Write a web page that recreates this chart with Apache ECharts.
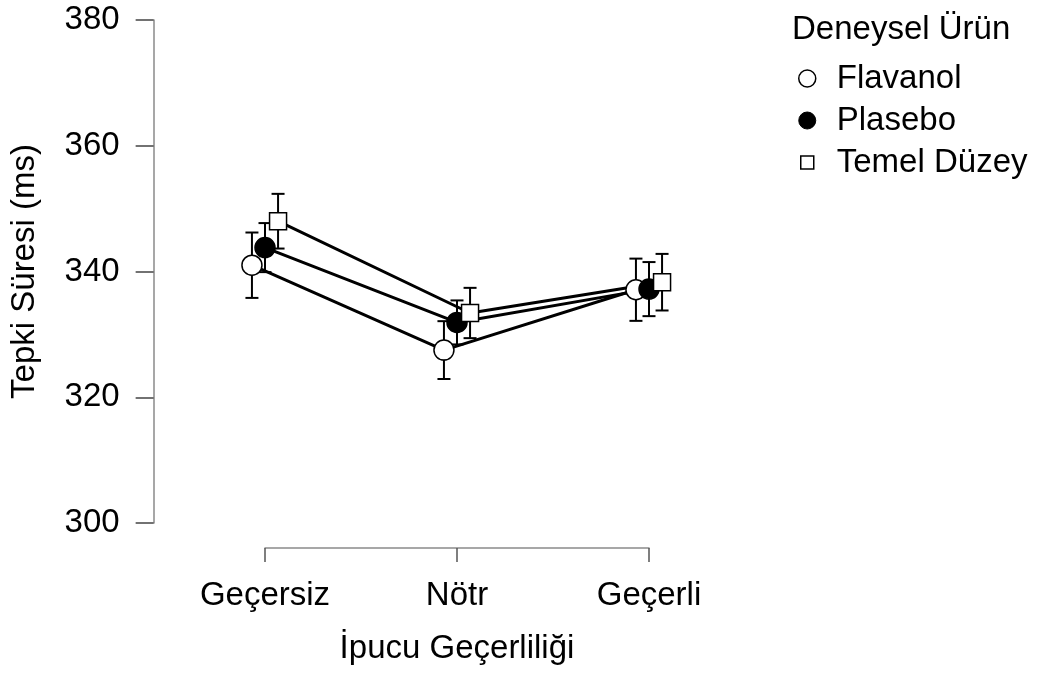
<!DOCTYPE html>
<html>
<head>
<meta charset="utf-8">
<script src="https://cdn.jsdelivr.net/npm/echarts@6/dist/echarts.min.js"></script>
<style>html,body{margin:0;padding:0;background:#fff}#c{width:1042px;height:679px}</style>
</head>
<body>
<div id="c"></div>
<script>
// ---- data ----
const categories = ['Geçersiz', 'Nötr', 'Geçerli'];
const groups = ['Flavanol', 'Plasebo', 'Temel Düzey'];
const flavanol = [341.0, 327.5, 337.1];
const flavanolSE = [5.2, 4.6, 4.95];
const plasebo = [343.8, 331.9, 337.2];
const plaseboSE = [3.9, 3.5, 4.3];
const temel = [348.0, 333.4, 338.3];
const temelSE = [4.35, 4.0, 4.5];
const yTicks = [300, 320, 340, 360, 380];

// ---- layout ----
const FONT = '"Liberation Sans", Arial, sans-serif';
const FS = 33;
const xMin = -0.58, xMax = 2.6, pxPerUnit = 192, firstCatPx = 265;
const gridLeft = firstCatPx + xMin * pxPerUnit;
const gridRight = 1042 - (firstCatPx + xMax * pxPerUnit);
const dodge = [-0.068, 0, 0.068];

const means = [flavanol, plasebo, temel];
const ses = [flavanolSE, plaseboSE, temelSE];
const symbols = ['circle', 'circle', 'rect'];
const sizes = [20, 20, 17];
const fills = ['#fff', '#000', '#fff'];

const series = [];
groups.forEach((g, gi) => {
  series.push({
    name: g + ' hata',
    type: 'custom',
    xAxisIndex: 0, yAxisIndex: 0,
    z: 2,
    silent: true,
    data: means[gi].map((m, ci) => [ci + dodge[gi], m - ses[gi][ci], m + ses[gi][ci]]),
    renderItem: function (params, api) {
      const x = api.value(0);
      const top = api.coord([x, api.value(2)]);
      const bot = api.coord([x, api.value(1)]);
      const hw = 6.5;
      const st = { stroke: '#000', lineWidth: 2 };
      return {
        type: 'group',
        children: [
          { type: 'line', shape: { x1: top[0], y1: top[1], x2: bot[0], y2: bot[1] }, style: st },
          { type: 'line', shape: { x1: top[0] - hw, y1: top[1], x2: top[0] + hw, y2: top[1] }, style: st },
          { type: 'line', shape: { x1: bot[0] - hw, y1: bot[1], x2: bot[0] + hw, y2: bot[1] }, style: st }
        ]
      };
    }
  });
});
groups.forEach((g, gi) => {
  series.push({
    name: g,
    type: 'line',
    xAxisIndex: 0, yAxisIndex: 0,
    z: 3,
    data: means[gi].map((m, ci) => [ci + dodge[gi], m]),
    symbol: symbols[gi],
    symbolSize: sizes[gi],
    showSymbol: true,
    lineStyle: { color: '#000', width: 3 },
    itemStyle: { color: fills[gi], borderColor: '#000', borderWidth: 1.5, opacity: 1 },
    emphasis: { disabled: true }
  });
});

const chart = echarts.init(document.getElementById('c'), null, { renderer: 'canvas' });
chart.setOption({
  animation: false,
  backgroundColor: '#fff',
  textStyle: { fontFamily: FONT, color: '#000' },
  title: {
    text: 'Deneysel Ürün',
    left: 787, top: 8,
    textStyle: { fontFamily: FONT, fontSize: FS, fontWeight: 'normal', color: '#000' }
  },
  legend: {
    orient: 'vertical',
    left: 798, top: 62,
    padding: 0,
    itemWidth: 17, itemHeight: 17,
    itemGap: 9,
    selectedMode: false,
    textStyle: { fontFamily: FONT, fontSize: FS, color: '#000', lineHeight: 33, padding: [0, 0, 0, 16] },
    data: [
      { name: groups[0], icon: 'circle', itemStyle: { color: '#fff', borderColor: '#000', borderWidth: 1.5 } },
      { name: groups[1], icon: 'circle', itemStyle: { color: '#000', borderColor: '#000', borderWidth: 1 } },
      { name: groups[2], icon: 'path://M0,0M17,17M2,2L15,2L15,15L2,15Z', itemStyle: { color: '#fff', borderColor: '#000', borderWidth: 1.5 } }
    ]
  },
  grid: [
    { left: gridLeft, right: gridRight, top: 20, bottom: 156 },
    { left: firstCatPx, width: 2 * pxPerUnit, top: 547, height: 1 }
  ],
  xAxis: [
    { gridIndex: 0, type: 'value', min: xMin, max: xMax, show: false },
    {
      gridIndex: 1, type: 'category', data: categories, boundaryGap: false, position: 'bottom',
      axisLine: { show: true, onZero: false, lineStyle: { color: '#8a8a8a', width: 1.5 } },
      axisTick: { show: true, length: 14, lineStyle: { color: '#555', width: 1.5 } },
      axisLabel: { fontFamily: FONT, fontSize: FS, color: '#000', margin: 31 },
      splitLine: { show: false },
      name: 'İpucu Geçerliliği', nameLocation: 'middle', nameGap: 84,
      nameTextStyle: { fontFamily: FONT, fontSize: FS, color: '#000' }
    }
  ],
  yAxis: [
    {
      gridIndex: 0, type: 'value', min: yTicks[0], max: yTicks[yTicks.length - 1], interval: 20,
      axisLine: { show: true, onZero: false, lineStyle: { color: '#8a8a8a', width: 1.5 } },
      axisTick: { show: true, length: 18, lineStyle: { color: '#444', width: 1.5 } },
      axisLabel: { fontFamily: FONT, fontSize: FS, color: '#000', margin: 34 },
      splitLine: { show: false },
      name: 'Tepki Süresi (ms)', nameLocation: 'middle', nameGap: 112, nameRotate: 90,
      nameTextStyle: { fontFamily: FONT, fontSize: FS, color: '#000' }
    },
    { gridIndex: 1, type: 'value', show: false }
  ],
  series: series
});
</script>
</body>
</html>
